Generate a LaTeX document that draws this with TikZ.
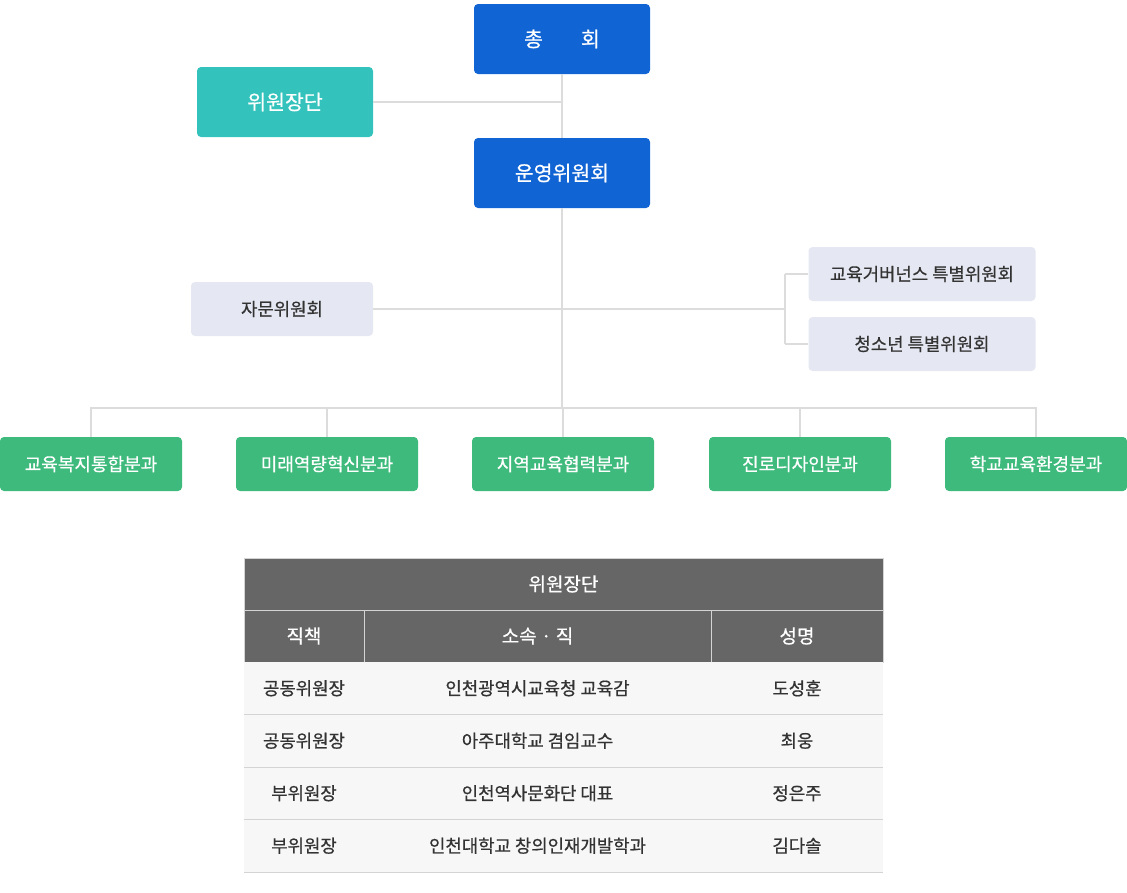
\documentclass[tikz,border=0pt]{standalone}
\usepackage{fontspec}
\setmainfont{Noto Sans CJK KR}
\newfontfamily\medfont[FakeBold=0.6]{Noto Sans CJK KR}
\usepackage{xcolor}
\definecolor{mainblue}{HTML}{1164D4}
\definecolor{teal2}{HTML}{33C3BC}
\definecolor{green2}{HTML}{3DBA7C}
\definecolor{softgray}{HTML}{E5E8F2}
\definecolor{linegray}{HTML}{DCDCDC}
\definecolor{textgray}{HTML}{333333}
\definecolor{headgray}{HTML}{666666}
\definecolor{rowgray}{HTML}{F7F7F7}
\definecolor{rulegray}{HTML}{D4D4D4}

\begin{document}
\begin{tikzpicture}[
    x=1pt, y=-1pt,
    bluebox/.style={rectangle, rounded corners=4pt, fill=mainblue, text=white, minimum width=176pt, minimum height=70pt, font=\medfont\fontsize{20.5}{24}\selectfont},
    tealbox/.style={rectangle, rounded corners=4pt, fill=teal2, text=white, minimum width=176pt, minimum height=70pt, font=\medfont\fontsize{20.5}{24}\selectfont},
    greybox/.style={rectangle, rounded corners=4pt, fill=softgray, text=textgray, minimum height=54pt, font=\medfont\fontsize{17.8}{21}\selectfont},
    unitbox/.style={rectangle, rounded corners=4pt, fill=green2, text=white, minimum width=182pt, minimum height=54pt, font=\medfont\fontsize{18}{21}\selectfont},
    link/.style={draw=linegray, line width=1.5pt},
    headcell/.style={rectangle, fill=headgray, text=white, draw=rulegray, line width=1pt, minimum height=52pt, font=\medfont\fontsize{19}{22}\selectfont},
    datacell/.style={rectangle, fill=rowgray, minimum height=52.5pt},
    celltext/.style={text=textgray, font=\medfont\fontsize{17.8}{21}\selectfont}
]
\useasboundingbox (0,0) rectangle (1127,892);

% Top level
\node[bluebox] (chonghoe) at (562,39) {총\hspace{38pt}회};
\node[tealbox] (wiwonjang) at (285,102) {위원장단};
\node[bluebox] (unyeong) at (562,173) {운영위원회};

% Committees
\node[greybox, minimum width=182pt] (jamun) at (282,309) {자문위원회};
\node[greybox, minimum width=227pt] (gov) at (922,274) {교육거버넌스 특별위원회};
\node[greybox, minimum width=227pt] (youth) at (922,344) {청소년 특별위원회};

% Subcommittees
\node[unitbox] (b1) at (91,464) {교육복지통합분과};
\node[unitbox] (b2) at (327,464) {미래역량혁신분과};
\node[unitbox] (b3) at (563,464) {지역교육협력분과};
\node[unitbox] (b4) at (800,464) {진로디자인분과};
\node[unitbox] (b5) at (1036,464) {학교교육환경분과};

% Connectors
\coordinate (bus) at (562,408);
\coordinate (branch) at (785,309);
\draw[link] (chonghoe.south) -- (unyeong.north);
\draw[link] (wiwonjang.east) -- (wiwonjang.east -| unyeong);
\draw[link] (unyeong.south) -- (bus);
\draw[link] (jamun.east) -- (branch);
\draw[link] (branch |- gov.west) -- (branch |- youth.west);
\draw[link] (branch |- gov.west) -- (gov.west);
\draw[link] (branch |- youth.west) -- (youth.west);
\draw[link] (b1.north) |- (bus) -| (b5.north);
\foreach \b in {b2,b3,b4}
  \draw[link] (\b.north) -- (\b.north |- bus);

% Table of chairs
\node[headcell, minimum width=639pt] (title) at (563.5,584) {위원장단};
\node[headcell, minimum width=120pt] (h1) at (304,636) {직책};
\node[headcell, minimum width=347pt] (h2) at (537.5,636) {소속 · 직};
\node[headcell, minimum width=172pt] (h3) at (797,636) {성명};

\foreach \y/\pos/\org/\name [count=\i] in {
    688.25/공동위원장/인천광역시교육청 교육감/도성훈,
    740.75/공동위원장/아주대학교 겸임교수/최웅,
    793.25/부위원장/인천역사문화단 대표/정은주,
    845.75/부위원장/인천대학교 창의인재개발학과/김다솔} {
  \node[datacell, minimum width=639pt] (row\i) at (563.5,\y) {};
  \node[celltext] (pos\i) at (304,\y) {\pos};
  \node[celltext] (org\i) at (537.5,\y) {\org};
  \node[celltext] (name\i) at (797,\y) {\name};
}
\foreach \i in {1,...,4}
  \draw[draw=rulegray, line width=1.2pt] (row\i.south west) -- (row\i.south east);

\end{tikzpicture}
\end{document}
